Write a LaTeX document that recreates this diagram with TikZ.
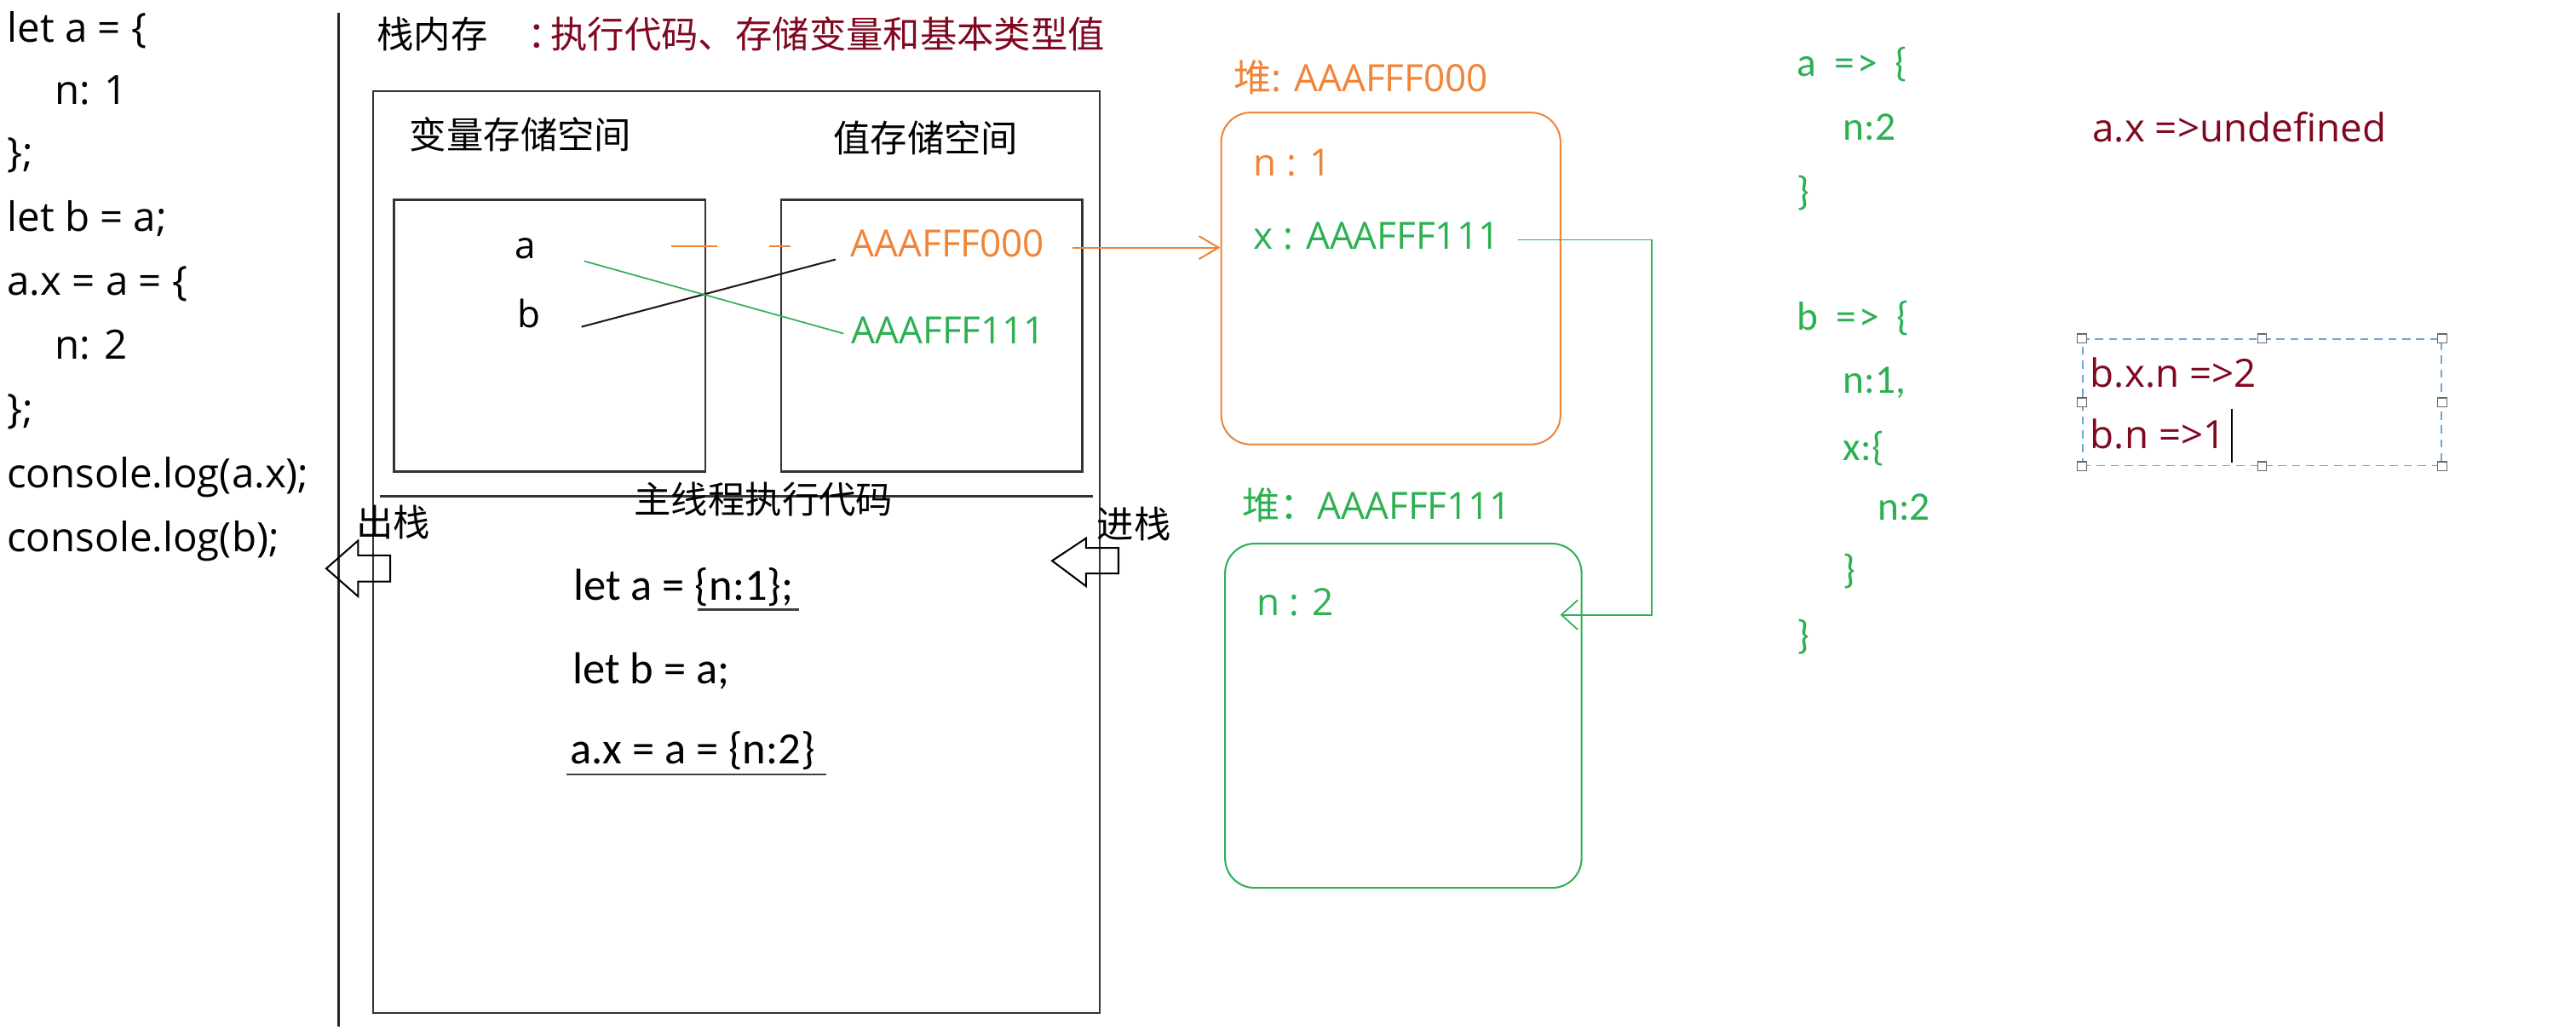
\documentclass[tikz,border=0pt]{standalone}
\usepackage{fontspec}
\setmainfont{Open Sans}
\newfontfamily\cjk{Noto Sans CJK SC}
\newfontfamily\calib{Carlito}
\usetikzlibrary{arrows.meta}

\definecolor{heaporange}{RGB}{240,132,56}
\definecolor{heapgreen}{RGB}{44,176,82}
\definecolor{notered}{RGB}{128,8,32}
\definecolor{selblue}{RGB}{110,165,220}

\begin{document}
\begin{tikzpicture}[x=0.2mm, y=-0.2mm]

\tikzstyle{codeline}=[anchor=west, inner sep=0, text height=0.76em, text depth=0.12em, font=\fontsize{14pt}{16pt}\selectfont]
\tikzstyle{stackcode}=[codeline, font=\calib\fontsize{15.5pt}{18pt}\selectfont]
\tikzstyle{heaptext}=[codeline, font=\fontsize{13pt}{15pt}\selectfont]
\tikzstyle{result}=[codeline, text=heapgreen, font=\calib\fontsize{14pt}{16pt}\selectfont]
\tikzstyle{note}=[codeline, text=notered, font=\fontsize{13.5pt}{16pt}\selectfont]
\tikzstyle{zh}=[anchor=west, inner sep=0, text height=0.88em, text depth=0.12em, font=\cjk\fontsize{12.8pt}{15pt}\selectfont]
\tikzstyle{box}=[rectangle, draw=black!80, line width=0.7pt, inner sep=0]
\tikzstyle{heapbox}=[rectangle, rounded corners=3.6mm, line width=0.6pt, inner sep=0]
\tikzstyle{arrow}=[-{Straight Barb[length=2.4mm,width=2.8mm]}, line width=0.6pt]
\tikzstyle{elbowarrow}=[-{Straight Barb[length=2mm,width=3.6mm]}, line width=0.5pt]
\tikzstyle{handle}=[rectangle, draw=black!60, fill=white, line width=0.4pt, minimum size=1.1mm, inner sep=0]

\fill[white] (0,0) rectangle (1568,630);
\useasboundingbox (0,0) rectangle (1568,630);

\node (c1) [codeline] at (4,20)  {let a = \{};
\node (c2) [codeline] at (33,58) {n: 1};
\node (c3) [codeline] at (4,96)  {\};};
\node (c4) [codeline] at (4,135) {let b = a;};
\node (c5) [codeline] at (4,174) {a.x = a = \{};
\node (c6) [codeline] at (33,213) {n: 2};
\node (c7) [codeline] at (4,252) {\};};
\node (c8) [codeline] at (4,291) {console.log(a.x);};
\node (c9) [codeline] at (4,330) {console.log(b);};

\draw [line width=0.8pt, black!85] (206,8) -- (206,625);

\node (title) [zh] at (229,22.5) {栈内存\hspace{14pt}\textcolor{notered}{：\hspace{-5pt}执行代码、存储变量和基本类型值}};

\node (stack) [box, minimum width=88.5mm, minimum height=112.2mm] at (448.3,335.9) {};
\node (varbox) [box, minimum width=37.9mm, minimum height=33.1mm] at (334.5,204.3) {};
\node (valbox) [box, minimum width=36.7mm, minimum height=33.1mm] at (567.1,204.3) {};
\node (varlabel) [zh] at (249,84) {变量存储空间};
\node (vallabel) [zh] at (507,86) {值存储空间};

\node (va) [heaptext, anchor=center] at (319.7,151.7) {a};
\node (vb) [heaptext, anchor=center] at (322.2,193.7) {b};
\node (v0) [heaptext, text=heaporange] at (517.5,150.7) {AAAFFF000};
\node (v1) [heaptext, text=heapgreen] at (518,203.4) {AAAFFF111};

\draw [black!90, line width=0.6pt] ([shift={(31.8,5.2)}]vb.center) -- ([shift={(-8.9,7.2)}]v0.west);
\draw [heapgreen, line width=0.5pt] ([shift={(35.9,7.2)}]va.center) -- ([shift={(-4.6,-0.4)}]v1.west);
\draw [heaporange, line width=0.6pt] (408.6,149.7) -- (436.5,149.7) (468.3,149.7) -- (481,149.7);

\draw [line width=0.7pt, black!80] (231.4,302) -- (665.1,302);
\node (mainthread) [zh] at (385.7,305.5) {主线程执行代码};

\node (pop) [zh] at (216.5,319.6) {出栈};
\draw [line width=0.6pt] (198.6,346) -- (218,329) -- (218,338) -- (237.5,338) -- (237.5,354) -- (218,354) -- (218,363) -- cycle;
\node (push) [zh] at (667.3,320.7) {进栈};
\draw [line width=0.6pt] (640.4,341.3) -- (661,327.6) -- (661,333.5) -- (680.8,333.5) -- (680.8,349) -- (661,349) -- (661,356.7) -- cycle;

\node (s1) [stackcode] at (348.9,359.7) {let a = \{n:1\};};
\node (s2) [stackcode] at (348.3,410.6) {let b = a;};
\node (s3) [stackcode] at (346.7,459.3) {a.x = a = \{n:2\}};
\draw [line width=0.8pt, black!75] (424.5,371) -- (486.4,371);
\draw [line width=0.8pt, black!75] (345,471.3) -- (503.2,471.3);

\node (h0) [heapbox, draw=heaporange, minimum width=41.3mm, minimum height=40.4mm] at (846.6,169.5) {};
\node (h0title) [heaptext, text=heaporange] at (750.7,50) {{\cjk 堆}: AAAFFF000};
\node (h0n) [heaptext, text=heaporange] at (762.7,101.4) {n : 1};
\node (hx) [heaptext, text=heapgreen] at (762.7,146) {x : AAAFFF111};

\node (h1) [heapbox, draw=heapgreen, minimum width=43.4mm, minimum height=41.9mm] at (854.2,435.6) {};
\node (h1title) [heaptext, text=heapgreen] at (755.9,310.5) {{\cjk 堆：}AAAFFF111};
\node (h1n) [heaptext, text=heapgreen] at (764.6,368.9) {n : 2};

\draw [arrow, heaporange, shorten <=3.3mm] (v0.east) -- (h0.west |- v0.east);

\coordinate (bend) at (1005.5,374.2);
\draw [elbowarrow, heapgreen, shorten <=2.1mm, shorten >=-2.7mm] (hx.east) -| (bend) -- (h1.east |- bend);

\node (ra1) [result] at (1093.4,41)    {a \hspace{3pt}=\hspace{1pt}> \hspace{3pt}\{};
\node (ra2) [result] at (1121.7,79.5)  {n:2};
\node (ra3) [result] at (1093.4,119.3) {\}};
\node (rb1) [result] at (1093.4,195.1) {b \hspace{3pt}=\hspace{1pt}> \hspace{3pt}\{};
\node (rb2) [result] at (1121.7,233.7) {n:1,};
\node (rb3) [result] at (1121.7,274.7) {x:\{};
\node (rb4) [result] at (1142.5,310.7) {n:2};
\node (rb5) [result] at (1121.7,349.2) {\}};
\node (rb6) [result] at (1093.4,389)   {\}};

\node (undef) [note] at (1273.4,80.8) {a.x =>undefined};

\node (sel) [rectangle, draw=selblue, dash pattern=on 1mm off 0.7mm, line width=0.5pt, minimum width=43.7mm, minimum height=15.4mm] at (1376.9,244.9) {};
\foreach \p [count=\i] in {north west, north, north east, west, east, south west, south, south east}
  \node (hdl\i) [handle] at (sel.\p) {};
\node (bxn) [note] at (1272,230) {b.x.n =>2};
\node (bn) [note] at (1272,267.2) {b.n =>1};
\draw [line width=0.6pt] (1358.5,249) -- (1358.5,281.6);

\end{tikzpicture}
\end{document}
